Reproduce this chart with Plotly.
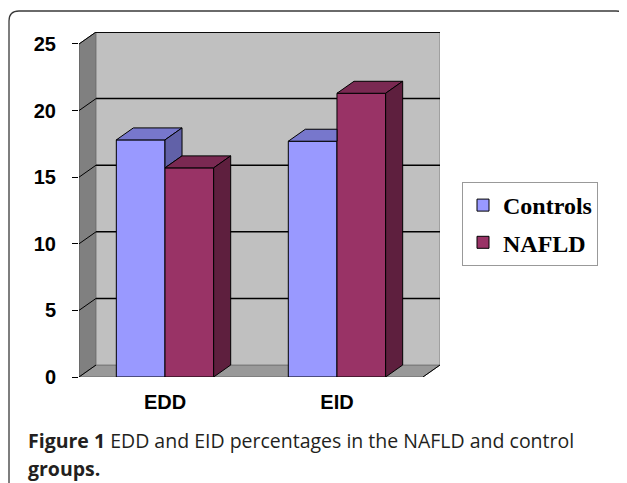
import plotly.graph_objects as go

categories = ["EDD", "EID"]
controls = [17.8, 17.7]
nafld = [15.7, 21.3]
series_names = ["Controls", "NAFLD"]
y_ticks = [0, 5, 10, 15, 20, 25]

# styling
front_cols = ["#9999FF", "#993366"]
top_cols = ["#7777CC", "#7A2952"]
side_cols = ["#6161A8", "#5E1F3E"]

OFF = 8               # page body margin
W, H = 627 - OFF, 483 - OFF
ML, MT = 79 - OFF, 32 - OFF
MR = W - (440 - OFF)
MB = H - (377 - OFF)
PW, PH = W - ML - MR, H - MT - MB

BARW = 0.283          # bar width in category units
BARGAP = 1 - 2 * BARW
DX = 0.0991           # depth offset (category units)
DY = 0.9              # depth offset (value units)
YMAX = 25
XR = [-0.5, len(categories) - 0.5 + DX]
YR = [0, YMAX + DY]


def px(X):  # page pixel -> paper
    return (X - OFF - ML) / PW


def py(Y):
    return (H - MB - (Y - OFF)) / PH


def poly(pts):
    return "M " + " L ".join(f"{x},{y}" for x, y in pts) + " Z"


fig = go.Figure()
for name, vals, col in zip(series_names, [controls, nafld], front_cols):
    fig.add_trace(go.Bar(
        x=list(range(len(categories))), y=vals, name=name,
        marker=dict(color=col, line=dict(color="black", width=1)),
        legendgroup=name, hoverinfo="skip",
    ))

shapes = []
xl, xr = -0.5, len(categories) - 0.5
# left wall
shapes.append(dict(type="path", xref="x", yref="y", layer="below",
                   path=poly([(xl, 0), (xl + DX, DY), (xl + DX, YMAX + DY), (xl, YMAX)]),
                   fillcolor="#808080", line=dict(color="#555555", width=1)))
# floor
shapes.append(dict(type="path", xref="x", yref="y", layer="below",
                   path=poly([(xl, 0), (xr, 0), (xr + DX, DY), (xl + DX, DY)]),
                   fillcolor="#999999", line=dict(color="#666666", width=1)))
# back wall
shapes.append(dict(type="path", xref="x", yref="y", layer="below",
                   path=poly([(xl + DX, DY), (xr + DX, DY), (xr + DX, YMAX + DY), (xl + DX, YMAX + DY)]),
                   fillcolor="#C0C0C0", line=dict(color="#808080", width=1)))
# top edge of back wall
shapes.append(dict(type="line", xref="x", yref="y", layer="below",
                   x0=xl + DX, x1=xr + DX, y0=YMAX + DY, y1=YMAX + DY,
                   line=dict(color="black", width=1.5)))
# floor diagonal at right
shapes.append(dict(type="line", xref="x", yref="y", layer="below",
                   x0=xr, x1=xr + DX, y0=0, y1=DY, line=dict(color="black", width=1)))
# gridlines
for v in y_ticks[1:]:
    shapes.append(dict(type="line", xref="x", yref="y", layer="below",
                       x0=xl + DX, x1=xr + DX, y0=v + DY, y1=v + DY,
                       line=dict(color="black", width=1.5)))
for v in y_ticks:
    shapes.append(dict(type="line", xref="x", yref="y", layer="below",
                       x0=xl, x1=xl + DX, y0=v, y1=v + DY,
                       line=dict(color="black", width=1)))

# 3D faces of bars
for i in range(len(categories)):
    vc, vn = controls[i], nafld[i]
    c0, c1, c2 = i - BARW, i, i + BARW
    if vn >= vc:
        top_pts = [(c0, vc), (c1, vc), (c1, vc + DY), (c0 + DX, vc + DY)]
    else:
        top_pts = [(c0, vc), (c1, vc), (c1 + DX, vc + DY), (c0 + DX, vc + DY)]
    shapes.append(dict(type="path", xref="x", yref="y", path=poly(top_pts),
                       fillcolor=top_cols[0], line=dict(color="black", width=1)))
    if vn < vc:
        shapes.append(dict(type="path", xref="x", yref="y",
                           path=poly([(c1, vn), (c1 + DX, vn + DY), (c1 + DX, vc + DY), (c1, vc)]),
                           fillcolor=side_cols[0], line=dict(color="black", width=1)))
    shapes.append(dict(type="path", xref="x", yref="y",
                       path=poly([(c1, vn), (c2, vn), (c2 + DX, vn + DY), (c1 + DX, vn + DY)]),
                       fillcolor=top_cols[1], line=dict(color="black", width=1)))
    shapes.append(dict(type="path", xref="x", yref="y",
                       path=poly([(c2, 0), (c2 + DX, DY), (c2 + DX, vn + DY), (c2, vn)]),
                       fillcolor=side_cols[1], line=dict(color="black", width=1)))

# outer rounded border
bx0, by0, bx1, by1, r = 9, 11, 626, 500, 10
border = (f"M {px(bx0)},{py(by1)} L {px(bx0)},{py(by0 + r)} "
          f"Q {px(bx0)},{py(by0)} {px(bx0 + r)},{py(by0)} "
          f"L {px(bx1 - r)},{py(by0)} Q {px(bx1)},{py(by0)} {px(bx1)},{py(by0 + r)} "
          f"L {px(bx1)},{py(by1)}")
shapes.append(dict(type="path", xref="paper", yref="paper", path=border,
                   line=dict(color="#3a3a3a", width=1.3)))

tick_font = dict(family="Liberation Sans, Arial", size=20, color="black", weight="bold")

fig.update_layout(
    width=W, height=H,
    margin=dict(l=ML, r=MR, t=MT, b=MB, autoexpand=False),
    paper_bgcolor="white", plot_bgcolor="rgba(0,0,0,0)",
    barmode="group", bargap=BARGAP, bargroupgap=0,
    shapes=shapes,
    xaxis=dict(range=XR, tickvals=list(range(len(categories))), ticktext=categories,
               showgrid=False, zeroline=False, showline=False, ticks="",
               tickfont=tick_font, ticklabelstandoff=11, fixedrange=True),
    xaxis2=dict(range=XR, overlaying="x", anchor="y", side="bottom",
                tickvals=[i - 0.5 for i in range(len(categories) + 1)],
                ticks="outside", ticklen=7, tickcolor="#666666", tickwidth=1,
                showticklabels=False, showgrid=False, zeroline=False, showline=False),
    yaxis=dict(range=YR, tickvals=y_ticks, showgrid=False, zeroline=False, showline=False,
               ticks="outside", ticklen=6, tickcolor="black", tickwidth=1,
               tickfont=tick_font, ticklabelstandoff=12, fixedrange=True),
    legend=dict(x=px(462), y=py(182), xanchor="left", yanchor="top",
                bgcolor="white", bordercolor="#999999", borderwidth=1,
                font=dict(family="Liberation Serif, Times New Roman", size=24, color="black", weight="bold"),
                traceorder="grouped", tracegroupgap=3),
    annotations=[
        dict(xref="paper", yref="paper", x=px(26), y=py(440), xanchor="left", yanchor="middle",
             showarrow=False, text="<b>Figure 1</b> EDD and EID percentages in the NAFLD and control",
             font=dict(family="Open Sans", size=19.5, color="#231F20")),
        dict(xref="paper", yref="paper", x=px(26), y=py(468), xanchor="left", yanchor="middle",
             showarrow=False, text="<b>groups.</b>",
             font=dict(family="Open Sans", size=19.5, color="#231F20")),
    ],
)

fig.write_html("out.html")
